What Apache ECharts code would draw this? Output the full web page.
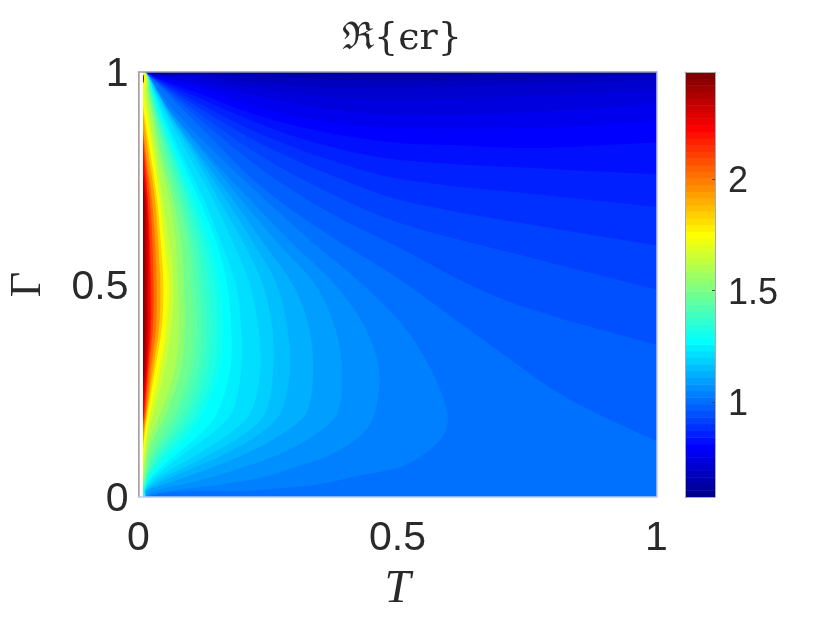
<!DOCTYPE html>
<html><head><meta charset="utf-8">
<style>html,body{margin:0;padding:0;background:#fff}#c{width:827px;height:622px;filter:blur(0.5px)}</style>
<script src="https://cdn.jsdelivr.net/npm/echarts@6/dist/echarts.min.js"></script>
</head><body><div id="c"></div>
<script>
// Colour bar band edges (values of eps_r)
const bandEdges=[.574,.604,.634,.663,.693,.723,.753,.782,.812,.842,.872,.902,.931,.961,.991,1.021,1.050,1.080,1.110,1.140,1.170,1.199,1.229,1.259,1.289,1.319,1.348,1.378,1.408,1.438,1.467,1.497,1.527,1.557,1.587,1.616,1.646,1.676,1.706,1.735,1.765,1.795,1.825,1.855,1.884,1.914,1.944,1.974,2.003,2.033,2.063,2.093,2.123,2.152,2.182,2.212,2.242,2.272,2.301,2.331,2.361,2.391,2.421,2.450,2.480];
const barTicks=[1,1.5,2];
// Open contours [T, Gamma]: from top-left corner to right edge. Number = index of band edge
const fan1=[[.113,1.01],[.24,.997],[.37,.996],[.505,.995],[.698,.998],[.827,1.01]];
const fan2=[[.012,1],[.113,.999],[.24,.995],[.37,.992],[.505,.991],[.698,.995],[.904,1]];
const fan3=[[.012,1],[.113,.996],[.24,.988],[.37,.983],[.505,.979],[.762,.985],[.9,.99]];
const fan4=[[.012,1],[.113,.99],[.24,.974],[.37,.964],[.505,.962],[.762,.972]];
const fan5=[[.012,1],[.113,.984],[.24,.958],[.37,.941],[.505,.934],[.762,.944]];
const fan6=[[.012,1],[.113,.974],[.24,.941],[.37,.911],[.505,.899],[.762,.906]];
const fan7=[[.012,1],[.113,.965],[.24,.915],[.37,.882],[.505,.868],[.762,.868]];
const fan8=[[.012,1],[.113,.951],[.24,.894],[.37,.856],[.505,.833],[.601,.828],[.762,.821],[.904,.828]];
const fan9=[[.012,1],[.113,.941],[.24,.875],[.37,.824],[.505,.793],[.762,.774]];
const fan10=[[.012,1],[.113,.929],[.24,.852],[.37,.793],[.505,.748],[.762,.713]];
const fan11=[[.012,1],[.113,.918],[.24,.829],[.37,.758],[.505,.699],[.762,.64]];
const fan12=[[.012,1],[.113,.906],[.24,.8],[.37,.715],[.505,.645],[.762,.562]];
const fan13=[[.012,1],[.113,.894],[.24,.769],[.37,.668],[.505,.586],[.64,.499],[.762,.44]];
const fan14=[[.012,1],[.113,.878],[.24,.727],[.37,.614],[.505,.511],[.698,.341],[.827,.233]];
const fanRightGamma=[1.01,1.0,.998,.981,.958,.927,.887,.835,.758,.68,.588,.482,.351,.12];
// Closed contours: T read at each Gamma row
const gammaRows=[.95,.9,.8,.7,.6,.5,.4,.3,.2,.15,.1,.05,.03,.015];
const t15=[.043,.076,.157,.244,.335,.433,.513,.565,.596,.591,.551,.424,.350,.215];
const t16=[.038,.067,.138,.215,.294,.379,.437,.464,.457,.433,.372,.252,.163,.065];
const t17=[.038,.065,.132,.198,.267,.341,.379,.393,.385,.345,.271,.150,.086,.032];
const t18=[.038,.061,.121,.182,.240,.298,.329,.337,.325,.279,.204,.099,.051,.016];
const t19=[.038,.061,.115,.169,.221,.267,.287,.292,.275,.235,.165,.070,.036,.015];
const t20=[.036,.057,.109,.155,.202,.240,.258,.260,.246,.206,.138,.055,.028,.013];
const t21=[.034,.055,.099,.144,.182,.215,.231,.235,.217,.177,.113,.043,.022,.013];
const t22=[.032,.049,.086,.126,.159,.188,.198,.198,.181,.142,.086,.034,.018,.011];
const t23=[.030,.045,.080,.117,.150,.171,.179,.177,.153,.121,.072,.028,.016,.011];
const t24=[.028,.043,.074,.109,.138,.157,.163,.157,.126,.099,.061,.024,.015,.011];
const t25=[.028,.040,.070,.101,.128,.146,.152,.146,.115,.088,.051,.020,.015,.011];
const t26=[.026,.038,.067,.096,.121,.136,.142,.134,.105,.078,.043,.018,.013,.010];
const t27=[.026,.036,.063,.090,.113,.126,.132,.125,.096,.070,.038,.016,.013,.008];
const t28=[.024,.034,.059,.084,.105,.117,.123,.115,.086,.061,.032,.015,.011,.007];
const t29=[.022,.032,.055,.080,.099,.109,.113,.105,.076,.053,.028,.015,.011,.007];
const t30=[.022,.032,.051,.074,.094,.101,.105,.097,.069,.045,.024,.013,.011,.006];
const t32=[.020,.028,.045,.067,.082,.088,.090,.082,.055,.034,.018,.012,.009,.006];
const t34=[.018,.026,.040,.059,.072,.076,.078,.070,.043,.026,.015,.010,.007,.006];
const t36=[.015,.020,.034,.047,.059,.067,.063,.051,.030,.018,.013,.009,.006,.006];
const t38=[.012,.018,.030,.042,.051,.059,.055,.042,.024,.016,.011,.007,.006,.006];
const t39=[.006,.015,.028,.038,.047,.055,.051,.038,.022,.015,.010,.006,.006,.006];
const t42=[.006,.011,.024,.036,.043,.048,.045,.032,.018,.012,.008,.006,.006,.006];
const t45=[.006,.009,.020,.032,.038,.042,.040,.028,.016,.011,.007,.006,.006,.006];
const t48=[.006,.006,.015,.026,.032,.035,.034,.024,.015,.009,.006,.006,.006,.006];
const t51=[.006,.006,.013,.022,.027,.029,.028,.020,.013,.007,.006,.006,.006,.006];
const t54=[.006,.006,.011,.018,.022,.024,.024,.018,.011,.006,.006,.006,.006,.006];
const t56=[.006,.006,.009,.016,.020,.021,.021,.016,.010,.006,.006,.006,.006,.006];
const t58=[.006,.006,.006,.015,.018,.018,.018,.015,.008,.006,.006,.006,.006,.006];
const t60=[.006,.006,.006,.013,.015,.016,.016,.013,.006,.006,.006,.006,.006,.006];
const t62=[.006,.006,.006,.011,.012,.013,.013,.011,.006,.006,.006,.006,.006,.006];
const closedBands=[15,16,17,18,19,20,21,22,23,24,25,26,27,28,29,30,32,34,36,38,39,42,45,48,51,54,56,58,60,62];
const closedT=[t15,t16,t17,t18,t19,t20,t21,t22,t23,t24,t25,t26,t27,t28,t29,t30,t32,t34,t36,t38,t39,t42,t45,t48,t51,t54,t56,t58,t60,t62];
// Extra readings [T, Gamma] between the rows, where a contour bends sharply
const extra15=[[.505,.07]];
const extra16=[[.302,.07]];
const closedExtra={15:extra15,16:extra16};
const fans=[fan1,fan2,fan3,fan4,fan5,fan6,fan7,fan8,fan9,fan10,fan11,fan12,fan13,fan14];
const dataStartT=.0087, cornerT=.012;

function jet(i){ // MATLAB jet(64), i = 0..63
  const f=(i+1)/64, c=x=>Math.round(255*Math.max(0,Math.min(1,x)));
  const r=1.5-Math.abs(4*f-3),g=1.5-Math.abs(4*f-2),b=1.5-Math.abs(4*f-1);
  return `rgb(${c(r)},${c(g)},${c(b)})`;
}
// Build regions, lowest level first. Off-plot closing points only shape the clipped outline.
const regions=[{band:0,poly:[[-.02,1.02],[1.02,1.02],[1.02,-.02],[-.02,-.02]]}];
fans.forEach((p,i)=>{
  const last=p[p.length-1], gR=fanRightGamma[i];
  const slope=(gR-last[1])/(1.02-last[0]);
  regions.push({band:i+1,poly:[[-.1,1.1],...p,[1.02,gR],[1.15,gR+slope*.13],[1.35,gR+slope*.33],[1.35,-.3],[-.1,-.3]]});
});
closedBands.forEach((b,i)=>{
  const ts=closedT[i];
  const pts=gammaRows.map((g,j)=>[ts[j],g]).concat(closedExtra[b]||[]).sort((a,c)=>c[1]-a[1]);
  const p=[[Math.min(cornerT,ts[0]),1],...pts,[Math.min(cornerT,ts[ts.length-1]),0],[-.1,-.1],[-.1,1.1]];
  regions.push({band:b,poly:p});
});

const txt='#2a2a2a', sans='"Liberation Sans"', serif='"Liberation Serif"';
const lineGrey='#a8a8a8';
const onZ={onZero:false};
const chart=echarts.init(document.getElementById('c'),null,{renderer:'canvas'});
chart.setOption({
  animation:false,
  backgroundColor:'#fff',
  title:{text:'ℜ{ϵr}',left:397,top:15,textAlign:'center',textStyle:{fontFamily:'"DejaVu Serif"',fontWeight:'normal',fontSize:38,color:txt}},
  grid:[{left:138.5,top:72,width:518,height:425,outerBoundsMode:'none'},{left:685,top:72,width:30,height:425,outerBoundsMode:'none'}],
  xAxis:[
   {gridIndex:0,type:'value',min:0,max:1,interval:.5,z:5,position:'bottom',splitLine:{show:false},
    axisLine:{...onZ,lineStyle:{color:'#b4ccff',width:1.5}},axisTick:{show:false},
    axisLabel:{fontFamily:sans,fontSize:41,color:txt,margin:21,showMinLabel:true,showMaxLabel:true,formatter:v=>String(v)},
    name:'T',nameLocation:'middle',nameGap:69,nameTextStyle:{fontFamily:serif,fontStyle:'italic',fontSize:47,color:txt}},
   {gridIndex:0,type:'value',min:0,max:1,position:'top',z:5,splitLine:{show:false},axisLine:{...onZ,lineStyle:{color:'#9a9ab8',width:1.5}},axisTick:{show:false},axisLabel:{show:false}},
   {gridIndex:1,type:'value',min:0,max:1,position:'bottom',z:5,splitLine:{show:false},axisLine:{...onZ,lineStyle:{color:'#aaa'}},axisTick:{show:false},axisLabel:{show:false}},
   {gridIndex:1,type:'value',min:0,max:1,position:'top',z:5,splitLine:{show:false},axisLine:{...onZ,lineStyle:{color:'#aaa'}},axisTick:{show:false},axisLabel:{show:false}}
  ],
  yAxis:[
   {gridIndex:0,type:'value',min:0,max:1,interval:.5,position:'left',z:5,splitLine:{show:false},
    axisLine:{...onZ,lineStyle:{color:lineGrey,width:1.5}},axisTick:{show:false},
    axisLabel:{fontFamily:sans,fontSize:41,color:txt,margin:10,verticalAlign:'top',lineHeight:6,formatter:v=>String(v)},
    name:'Γ',nameLocation:'middle',nameRotate:90,nameGap:88,nameTextStyle:{fontFamily:serif,fontSize:44,color:txt}},
   {gridIndex:0,type:'value',min:0,max:1,position:'right',z:5,splitLine:{show:false},axisLine:{...onZ,lineStyle:{color:'#c4c4ff',width:1.5}},axisTick:{show:false},axisLabel:{show:false}},
   {gridIndex:1,type:'value',min:bandEdges[0],max:bandEdges[64],position:'right',z:5,splitLine:{show:false},
    axisLine:{...onZ,lineStyle:{color:'#aaa'}},
    axisTick:{show:true,inside:true,length:3,customValues:barTicks,lineStyle:{color:'#444'}},
    axisLabel:{fontFamily:sans,fontSize:36,color:txt,margin:13,verticalAlign:'top',lineHeight:7,customValues:barTicks,formatter:v=>String(v)}},
   {gridIndex:1,type:'value',min:bandEdges[0],max:bandEdges[64],position:'left',z:5,splitLine:{show:false},axisLine:{...onZ,lineStyle:{color:'#aaa'}},axisTick:{show:false},axisLabel:{show:false}}
  ],
  series:[
   {type:'custom',xAxisIndex:0,yAxisIndex:0,clip:true,silent:true,z:2,
    data:regions.map((r,i)=>[i]),
    renderItem(params,api){
      const r=regions[api.value(0)];
      return {type:'polygon',shape:{points:r.poly.map(p=>api.coord(p)),smooth:0.33},style:{fill:jet(r.band),stroke:null}};
    }},
   {type:'custom',xAxisIndex:0,yAxisIndex:0,clip:true,silent:true,z:3,
    data:[[dataStartT]],
    renderItem(params,api){
      const a=api.coord([0,1]),b=api.coord([api.value(0),0]);
      return {type:'rect',shape:{x:a[0],y:a[1],width:b[0]-a[0],height:b[1]-a[1]},style:{fill:'#fff'}};
    }},
   {type:'custom',xAxisIndex:2,yAxisIndex:2,clip:true,silent:true,z:2,
    data:bandEdges.slice(0,64).map((v,i)=>[i,v,bandEdges[i+1]]),
    renderItem(params,api){
      const a=api.coord([0,api.value(2)]),b=api.coord([1,api.value(1)]);
      return {type:'rect',shape:{x:a[0],y:a[1],width:b[0]-a[0],height:b[1]-a[1]+.5},style:{fill:jet(api.value(0))}};
    }}
  ]
});
</script></body></html>
